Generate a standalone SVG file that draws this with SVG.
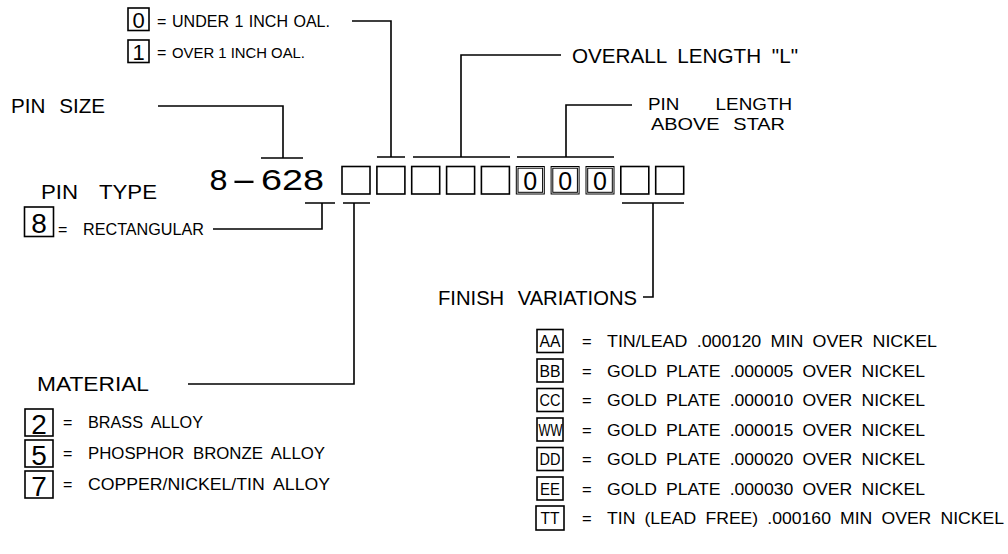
<svg xmlns="http://www.w3.org/2000/svg" width="1008" height="554" viewBox="0 0 1008 554">
<style>
text{font-family:"Liberation Sans",Arial,sans-serif;fill:#000}
.lbl{font-size:20.5px}
.sm{font-size:16px}
.fin{font-size:16.5px}
.code{font-size:30px}
.dig{font-size:25px;text-anchor:middle}
.bx{fill:none;stroke:#000;stroke-width:1.6}
.bx2{fill:none;stroke:#000;stroke-width:1}
.ln{fill:none;stroke:#000;stroke-width:1.6}
</style>
<rect width="1008" height="554" fill="#fff"/>

<g id="code-row">
<text class="code" y="190"><tspan x="209.5" textLength="18" lengthAdjust="spacingAndGlyphs">8</tspan><tspan x="231" textLength="26" lengthAdjust="spacingAndGlyphs">-</tspan><tspan x="261" textLength="63" lengthAdjust="spacingAndGlyphs">628</tspan></text>
<rect class="bx" x="342" y="166.5" width="28" height="27.5"/>
<rect class="bx" x="376.9" y="166.5" width="28" height="27.5"/>
<rect class="bx" x="411.7" y="166.5" width="28" height="27.5"/>
<rect class="bx" x="446.6" y="166.5" width="28" height="27.5"/>
<rect class="bx" x="481.4" y="166.5" width="28" height="27.5"/>
<rect class="bx2" x="516.3" y="166.5" width="28" height="27.5"/>
<rect class="bx2" x="518" y="168.2" width="24.6" height="24.1"/>
<rect class="bx2" x="551.1" y="166.5" width="28" height="27.5"/>
<rect class="bx2" x="552.8" y="168.2" width="24.6" height="24.1"/>
<rect class="bx2" x="586" y="166.5" width="28" height="27.5"/>
<rect class="bx2" x="587.7" y="168.2" width="24.6" height="24.1"/>
<text class="dig" x="530.3" y="189.5">0</text>
<text class="dig" x="565.1" y="189.5">0</text>
<text class="dig" x="600" y="189.5">0</text>
<rect class="bx" x="620.8" y="166.5" width="28" height="27.5"/>
<rect class="bx" x="655.7" y="166.5" width="28" height="27.5"/>
</g>

<g id="connectors">
<path class="ln" d="M158,106 H283 V158 M261,158 H303"/>
<path class="ln" d="M352,21 H391 V157 M377,157 H405"/>
<path class="ln" d="M561,55 H461 V157 M413,157 H510"/>
<path class="ln" d="M632,105 H566 V157 M517,157 H614"/>
<path class="ln" d="M305,203 H335 M322,203 V229 H213"/>
<path class="ln" d="M343,203 H370 M354,203 V384 H188"/>
<path class="ln" d="M622,203 H684 M653,203 V297 H643"/>
</g>

<g id="pin-size">
<text class="lbl" x="11" y="113" style="word-spacing:8px" textLength="94" lengthAdjust="spacingAndGlyphs">PIN SIZE</text>
</g>

<g id="oal-option">
<rect class="bx" x="128" y="8" width="21" height="22.5"/>
<text class="dig" x="138.5" y="27.5" style="font-size:22px">0</text>
<text class="sm" x="157" y="27">=</text>
<text class="sm" x="172" y="27" style="font-size:16px;word-spacing:1px" textLength="158" lengthAdjust="spacingAndGlyphs">UNDER 1 INCH OAL.</text>
<rect class="bx" x="128" y="40" width="21" height="22.5"/>
<text class="dig" x="138.5" y="59.5" style="font-size:22px">1</text>
<text class="sm" x="157" y="58">=</text>
<text class="sm" x="172" y="58" style="font-size:15px" textLength="133" lengthAdjust="spacingAndGlyphs">OVER 1 INCH OAL.</text>
</g>

<g id="overall-length">
<text class="lbl" x="572" y="63" style="word-spacing:5px" textLength="226" lengthAdjust="spacingAndGlyphs">OVERALL LENGTH "L"</text>
</g>

<g id="pin-length">
<text style="font-size:17px;word-spacing:28px" x="648" y="110" textLength="144" lengthAdjust="spacingAndGlyphs">PIN LENGTH</text>
<text style="font-size:17px;word-spacing:7px" x="651" y="129.5" textLength="134" lengthAdjust="spacingAndGlyphs">ABOVE STAR</text>
</g>

<g id="pin-type">
<text class="lbl" x="41" y="198.5" style="word-spacing:14px" textLength="116" lengthAdjust="spacingAndGlyphs">PIN TYPE</text>
<rect class="bx" x="24.5" y="207" width="29" height="29.5"/>
<text class="dig" x="39" y="233" style="font-size:28px">8</text>
<text class="sm" x="58" y="235">=</text>
<text class="sm" x="83" y="235" textLength="121" lengthAdjust="spacingAndGlyphs">RECTANGULAR</text>
</g>

<g id="material">
<text class="lbl" x="37" y="391" textLength="112" lengthAdjust="spacingAndGlyphs">MATERIAL</text>
<rect class="bx" x="25" y="409" width="28" height="27"/>
<text class="dig" x="39" y="434" style="font-size:28px">2</text>
<text class="sm" x="63" y="428">=</text>
<text class="sm" x="88" y="428" style="word-spacing:4px" textLength="115" lengthAdjust="spacingAndGlyphs">BRASS ALLOY</text>
<rect class="bx" x="25" y="440" width="28" height="27"/>
<text class="dig" x="39" y="465" style="font-size:28px">5</text>
<text class="sm" x="63" y="459">=</text>
<text class="sm" x="88" y="459" style="word-spacing:4px" textLength="237" lengthAdjust="spacingAndGlyphs">PHOSPHOR BRONZE ALLOY</text>
<rect class="bx" x="25" y="471" width="28" height="27"/>
<text class="dig" x="39" y="496" style="font-size:28px">7</text>
<text class="sm" x="63" y="490">=</text>
<text class="sm" x="88" y="490" style="word-spacing:4px" textLength="242" lengthAdjust="spacingAndGlyphs">COPPER/NICKEL/TIN ALLOY</text>
</g>

<g id="finish">
<text class="lbl" x="438" y="305" style="word-spacing:8px" textLength="199" lengthAdjust="spacingAndGlyphs">FINISH VARIATIONS</text>
<rect class="bx" x="537" y="329.5" width="26" height="23"/>
<text class="fin" x="539.5" y="347" textLength="21" lengthAdjust="spacingAndGlyphs">AA</text>
<text class="fin" x="582" y="347">=</text>
<text class="fin" x="607" y="347" style="word-spacing:4px" textLength="330" lengthAdjust="spacingAndGlyphs">TIN/LEAD .000120 MIN OVER NICKEL</text>
<rect class="bx" x="537" y="359" width="26" height="23"/>
<text class="fin" x="539.5" y="376.5" textLength="21" lengthAdjust="spacingAndGlyphs">BB</text>
<text class="fin" x="582" y="376.5">=</text>
<text class="fin" x="607" y="376.5" style="word-spacing:4px" textLength="318" lengthAdjust="spacingAndGlyphs">GOLD PLATE .000005 OVER NICKEL</text>
<rect class="bx" x="537" y="388.5" width="26" height="23"/>
<text class="fin" x="539.5" y="406" textLength="21" lengthAdjust="spacingAndGlyphs">CC</text>
<text class="fin" x="582" y="406">=</text>
<text class="fin" x="607" y="406" style="word-spacing:4px" textLength="318" lengthAdjust="spacingAndGlyphs">GOLD PLATE .000010 OVER NICKEL</text>
<rect class="bx" x="537" y="418" width="26" height="23"/>
<text class="fin" x="538.5" y="435.5" textLength="24" lengthAdjust="spacingAndGlyphs">WW</text>
<text class="fin" x="582" y="435.5">=</text>
<text class="fin" x="607" y="435.5" style="word-spacing:4px" textLength="318" lengthAdjust="spacingAndGlyphs">GOLD PLATE .000015 OVER NICKEL</text>
<rect class="bx" x="537" y="447.5" width="26" height="23"/>
<text class="fin" x="539.5" y="465" textLength="21" lengthAdjust="spacingAndGlyphs">DD</text>
<text class="fin" x="582" y="465">=</text>
<text class="fin" x="607" y="465" style="word-spacing:4px" textLength="318" lengthAdjust="spacingAndGlyphs">GOLD PLATE .000020 OVER NICKEL</text>
<rect class="bx" x="537" y="477" width="26" height="23"/>
<text class="fin" x="540" y="494.5" textLength="20" lengthAdjust="spacingAndGlyphs">EE</text>
<text class="fin" x="582" y="494.5">=</text>
<text class="fin" x="607" y="494.5" style="word-spacing:4px" textLength="318" lengthAdjust="spacingAndGlyphs">GOLD PLATE .000030 OVER NICKEL</text>
<rect class="bx" x="536" y="506" width="28" height="24"/>
<text class="fin" x="540.5" y="524" textLength="19" lengthAdjust="spacingAndGlyphs">TT</text>
<text class="fin" x="582" y="524">=</text>
<text class="fin" x="607" y="524" style="word-spacing:4px" textLength="397" lengthAdjust="spacingAndGlyphs">TIN (LEAD FREE) .000160 MIN OVER NICKEL</text>
</g>
</svg>
